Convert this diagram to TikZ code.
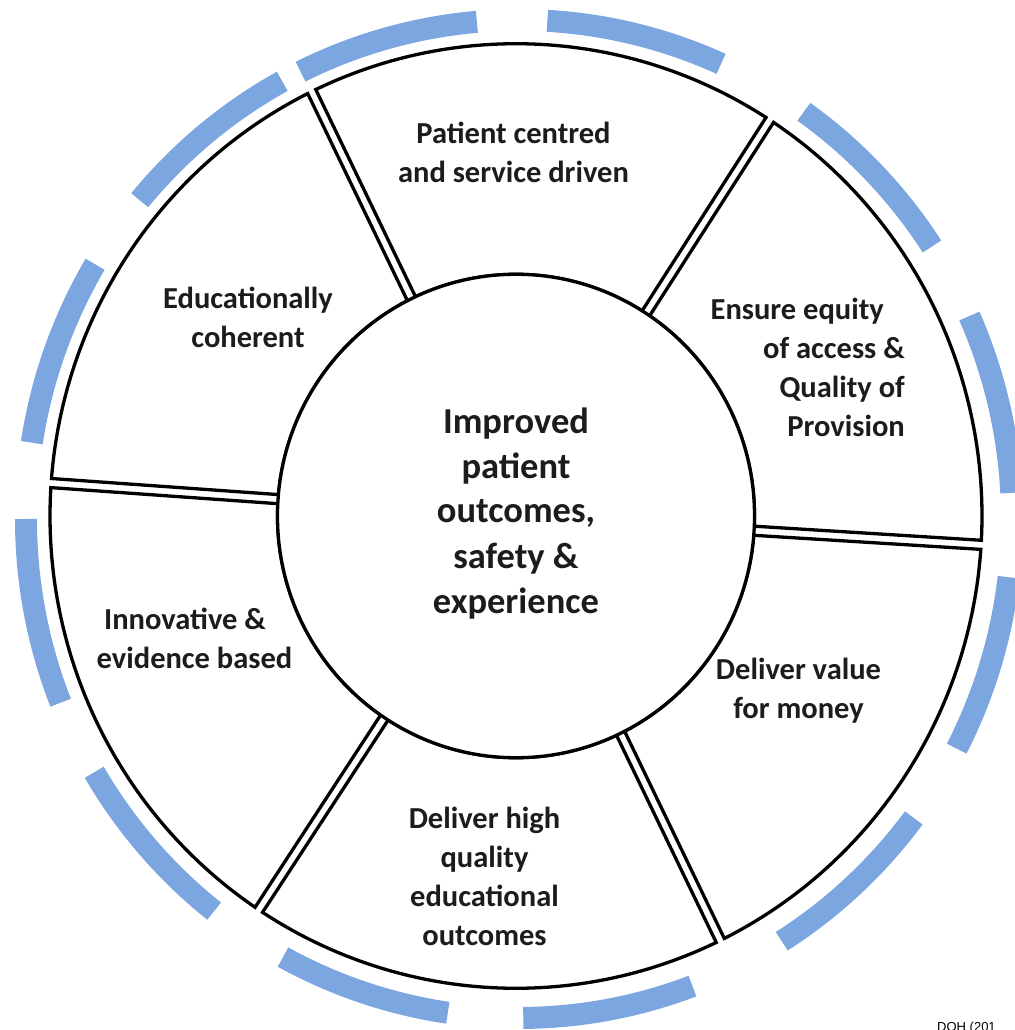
\documentclass[tikz,border=0pt]{standalone}
\usepackage{fontspec}
\setmainfont{Carlito}
\newfontfamily\arialfont{Liberation Sans}
\definecolor{ringblue}{RGB}{124,166,224}
\definecolor{txt}{RGB}{28,28,28}
\begin{document}
\begin{tikzpicture}[x=1pt,y=1pt,
  seg/.style={draw=black, line width=3.3pt, fill=white, line join=miter},
  ring/.style={draw=ringblue, line width=22pt},
  lbl/.style={font=\bfseries\fontsize{30.5}{39}\selectfont, text=txt, inner sep=0pt, align=center, anchor=base},
  hub/.style={font=\bfseries\fontsize{36.5}{45}\selectfont, text=txt, inner sep=0pt, align=center, anchor=base}
]
\useasboundingbox (-516,-514) rectangle (498,516);
% blue outer ring
\foreach \a/\b in {94.9/116.3, 65.8/86.7, 33.1/54.7, 3/24, -27.4/-6.7, -57.8/-36.8,
                   -89.5/-69.4, -118.6/-98.3, -149.5/-128.2, -180/-158.4, 149.3/171.2, 118.7/140.3}
  \draw[ring] ([shift={(\a:493pt and 499pt)}]3,-3) arc[start angle=\a, end angle=\b, x radius=493pt, y radius=499pt];
% segments
\begin{scope}[yscale=1.0135]
\foreach \s/\e in {57/116, -3.5/57, -64/-3.5, -123.5/-64, -184/-123.5, 116/176}
  \draw[seg] ({\s+0.553}:466pt) arc[start angle={\s+0.553}, end angle={\e-0.553}, radius=466pt]
     -- ({\e-1.081}:238.5pt) arc[start angle={\e-1.081}, end angle={\s+1.081}, radius=238.5pt] -- cycle;
\draw[line width=3.3pt, fill=white] (0,0) circle[radius=238.5pt];
\end{scope}
% labels (base = baseline of the last line)
\node[hub] (hub) at (0,-97) {Improved\\patient\\outcomes,\\safety \&\\experience};
\node[lbl] (patient) at (-2.5,333) {Patient centred\\and service driven};
\node[lbl, align=right, anchor=base east] (ensure) at (389,79) {Ensure equity\hspace*{21pt}\\of access \&\hspace*{10pt}\\Quality of\hspace*{5pt}\\Provision};
\node[lbl] (value) at (282.5,-202) {Deliver value\\for money};
\node[lbl] (high) at (-31.5,-429) {Deliver high\\quality\\educational\\outcomes};
\node[lbl] (innov) at (-321.5,-152) {Innovative \&\hspace*{19pt}\\evidence based};
\node[lbl] (educ) at (-268,168) {Educationally\\coherent};
\node[anchor=base west, inner sep=0pt, font=\arialfont\fontsize{13}{15}\selectfont] (doh) at (421,-515.5) {DOH (201};
\end{tikzpicture}
\end{document}
